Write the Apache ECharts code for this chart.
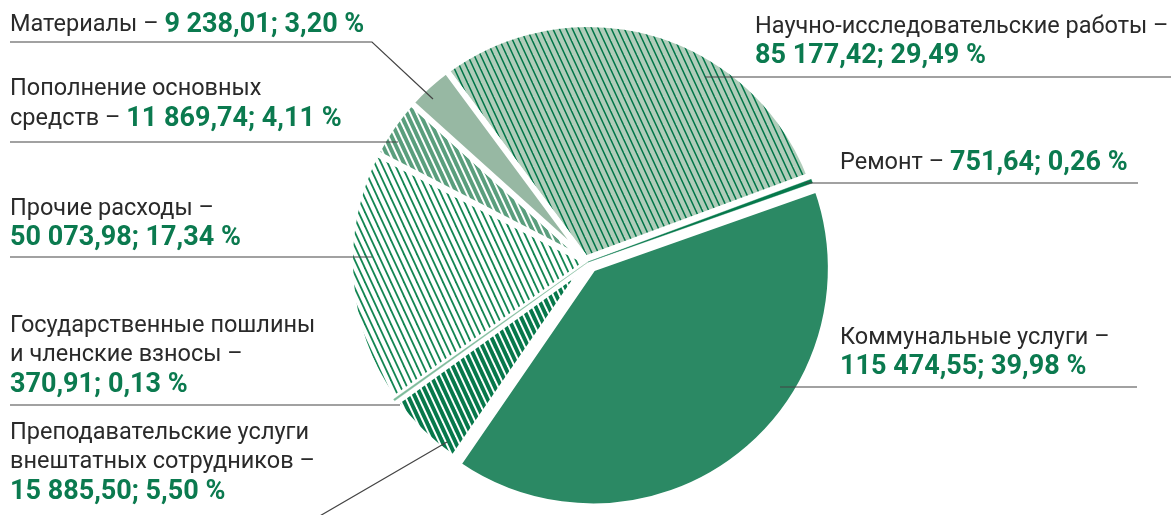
<!DOCTYPE html>
<html>
<head>
<meta charset="utf-8">
<script src="https://cdn.jsdelivr.net/npm/echarts@6/dist/echarts.min.js"></script>
<style>
  html, body { margin: 0; padding: 0; background: #ffffff; }
  #chart { width: 1171px; height: 515px; }
</style>
</head>
<body>
<div id="chart"></div>
<script>
// Expense categories, clockwise from the top
const categories = [
  'Научно-исследовательские работы',
  'Ремонт',
  'Коммунальные услуги',
  'Преподавательские услуги\nвнештатных сотрудников',
  'Государственные пошлины\nи членские взносы',
  'Прочие расходы',
  'Пополнение основных\nсредств',
  'Материалы'
];
// Amounts per category
const amounts = [85177.42, 751.64, 115474.55, 15885.50, 370.91, 50073.98, 11869.74, 9238.01];

const total = amounts.reduce((a, b) => a + b, 0);

// Russian-style number: "85 177,42"
function fmtNum(v) {
  const [i, d] = v.toFixed(2).split('.');
  return i.replace(/\B(?=(\d{3})+(?!\d))/g, ' ') + ',' + d;
}
function fmtPct(v) {
  return (v / total * 100).toFixed(2).replace('.', ',');
}

// Diagonal hatch pattern tile
function stripes(bg, fg, width, period, rise) {
  const c = document.createElement('canvas');
  c.width = Math.round(period * 2);
  c.height = rise;
  const g = c.getContext('2d');
  if (bg) { g.fillStyle = bg; g.fillRect(0, 0, c.width, c.height); }
  g.strokeStyle = fg;
  g.lineWidth = width;
  for (let k = -4; k <= 4; k++) {
    g.beginPath();
    g.moveTo(k * period - period, -rise);
    g.lineTo(k * period + 2 * period, 2 * rise);
    g.stroke();
  }
  return { image: c, repeat: 'repeat' };
}

const fills = [
  stripes('#b0cdba', '#007548', 1.5, 6.5, 14),
  '#06784b',
  '#2b8964',
  stripes('#07784b', '#ffffff', 2, 6.5, 14),
  '#7dbb9b',
  stripes('#ffffff', '#138653', 1.8, 6.5, 14),
  stripes('#5a9e7d', '#ffffff', 2, 6.5, 14),
  '#97b8a3'
];
// White separation stroke per slice (wider on the thin slices so neighbours keep a gap)
const gapWidth = [6, 14, 6, 6, 10, 6, 6, 6];
// Slices drawn again on top so the thin ones stay visible
const onTop = [false, true, false, false, true, false, false, false];

// Label blocks: top-left corner, whether the figures start a new line, leader line
const labelBoxes = [
  { x: 755, y: 12,  br: true,  line: [[705, 77], [705, 77], [1171, 77]] },
  { x: 840, y: 148, br: false, line: [[805, 183], [805, 183], [1138, 183]] },
  { x: 840, y: 323, br: true,  line: [[780, 387], [780, 387], [1137, 387]] },
  { x: 10, y: 418,  br: true,  line: [[447, 442], [318, 517], [10, 517]] },
  { x: 10, y: 311,  br: true,  line: [[400, 405], [400, 405], [10, 405]] },
  { x: 10, y: 194,  br: true,  line: [[372, 257], [372, 257], [10, 257]] },
  { x: 10, y: 74.5, br: false, line: [[398, 142], [398, 142], [10, 142]] },
  { x: 10, y: 10,   br: false, line: [[433, 99], [372, 42], [10, 42]] }
];

const pieCenter = [588, 262];
const pieRadius = 238;
const startAngle = 126.5;
const clear = 'rgba(0,0,0,0)';

const chart = echarts.init(document.getElementById('chart'), null, { renderer: 'canvas' });

chart.setOption({
  animation: false,
  backgroundColor: '#ffffff',
  textStyle: { fontFamily: 'Roboto' },
  series: [
    {
      type: 'pie',
      z: 2,
      silent: true,
      center: pieCenter,
      radius: pieRadius,
      startAngle: startAngle,
      selectedMode: 'multiple',
      selectedOffset: 8,
      avoidLabelOverlap: false,
      label: { show: false },
      labelLine: { show: false },
      emphasis: { disabled: true },
      data: categories.map((name, i) => ({
        name,
        value: amounts[i],
        selected: i === 2,
        itemStyle: { color: fills[i], borderColor: '#ffffff', borderWidth: gapWidth[i] }
      }))
    },
    {
      type: 'pie',
      z: 3,
      silent: true,
      center: pieCenter,
      radius: pieRadius,
      startAngle: startAngle,
      avoidLabelOverlap: false,
      label: { show: false },
      labelLine: { show: false },
      emphasis: { disabled: true },
      data: categories.map((name, i) => ({
        name,
        value: amounts[i],
        itemStyle: onTop[i]
          ? { color: fills[i], borderColor: fills[i], borderWidth: 0.4 }
          : { color: clear, borderWidth: 0 }
      }))
    },
    {
      type: 'pie',
      z: 4,
      silent: true,
      center: pieCenter,
      radius: pieRadius,
      startAngle: startAngle,
      avoidLabelOverlap: false,
      emphasis: { disabled: true },
      itemStyle: { color: clear, borderWidth: 0 },
      label: {
        show: true,
        position: 'outside',
        formatter: p => '{n|' + p.name + ' – }' + (labelBoxes[p.dataIndex].br ? '\n' : '') +
          '{v|' + fmtNum(p.value) + '; ' + fmtPct(p.value) + ' %}',
        rich: {
          n: { fontFamily: 'Roboto', fontSize: 23.5, lineHeight: 29.5, color: '#2a2a2a' },
          v: { fontFamily: 'Roboto', fontSize: 27, lineHeight: 29.5, color: '#0b7a4f', fontWeight: 'bold' }
        }
      },
      labelLine: {
        show: true,
        length: 10,
        length2: 10,
        lineStyle: { color: '#444444', width: 1.2 }
      },
      labelLayout: params => {
        const b = labelBoxes[params.dataIndex];
        return {
          x: b.x,
          y: b.y,
          align: 'left',
          verticalAlign: 'top',
          labelLinePoints: b.line
        };
      },
      data: categories.map((name, i) => ({ name, value: amounts[i] }))
    }
  ]
});
</script>
</body>
</html>
